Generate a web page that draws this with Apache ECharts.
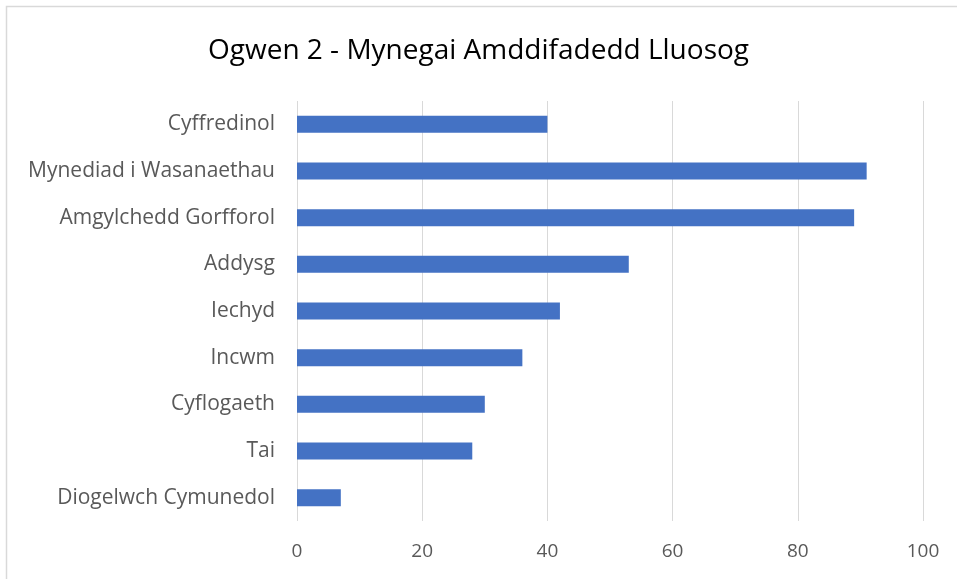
<!DOCTYPE html>
<html><head><meta charset="utf-8">
<script src="https://cdn.jsdelivr.net/npm/echarts@6/dist/echarts.min.js"></script>
<style>html,body{margin:0;padding:0;background:#fff}#c{width:957px;height:579px}</style>
</head><body><div id="c"></div>
<script>
const categories = ["Diogelwch Cymunedol","Tai","Cyflogaeth","Incwm","Iechyd","Addysg","Amgylchedd Gorfforol","Mynediad i Wasanaethau","Cyffredinol"];
const values = [7,28,30,36,42,53,89,91,40];
const titleText = "Ogwen 2 - Mynegai Amddifadedd Lluosog";
const chart = echarts.init(document.getElementById('c'));
chart.setOption({
  animation:false,
  backgroundColor:'#fff',
  graphic:[{type:'rect',shape:{x:6.5,y:6.5,width:960,height:600},style:{fill:'none',stroke:'#d9d9d9',lineWidth:1.5}}],
  title:{text:titleText,left:'center',top:32,textStyle:{fontFamily:'Open Sans',fontWeight:'normal',fontSize:28,color:'#000'}},
  grid:{left:297,right:34,top:101,bottom:58,containLabel:false},
  xAxis:{type:'value',min:0,max:100,interval:20,
    axisLine:{show:false},axisTick:{show:false},
    splitLine:{lineStyle:{color:'#d9d9d9',width:1}},
    axisLabel:{color:'#595959',fontSize:19,fontFamily:'Open Sans',margin:21}},
  yAxis:{type:'category',data:categories,
    axisLine:{show:false},axisTick:{show:false},
    axisLabel:{color:'#595959',fontSize:21,fontFamily:'Open Sans',margin:22}},
  series:[{type:'bar',data:values,barWidth:17,itemStyle:{color:'#4472c4'}}]
});
</script></body></html>
